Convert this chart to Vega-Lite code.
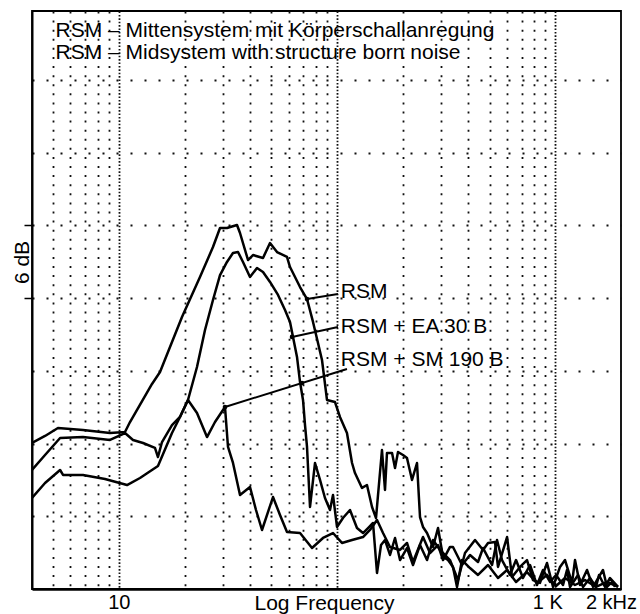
{
  "$schema": "https://vega.github.io/schema/vega-lite/v6.json",
  "width": 589,
  "height": 578,
  "autosize": {"type": "none"},
  "padding": {"left": 32, "top": 11, "right": 19, "bottom": 25},
  "background": "white",
  "config": {
    "view": {"stroke": "black", "strokeWidth": 1.8},
    "font": "Liberation Sans"
  },
  "datasets": {
    "curves": [
      {"series":"RSM","f":4.00,"dB":12.05},{"series":"RSM","f":4.59,"dB":12.63},{"series":"RSM","f":5.26,"dB":13.29},{"series":"RSM","f":6.85,"dB":13.12},{"series":"RSM","f":9.11,"dB":12.87},{"series":"RSM","f":10.67,"dB":12.96},{"series":"RSM","f":11.25,"dB":13.78},{"series":"RSM","f":14.19,"dB":16.92},{"series":"RSM","f":15.44,"dB":17.91},{"series":"RSM","f":19.47,"dB":22.45},{"series":"RSM","f":23.54,"dB":25.75},{"series":"RSM","f":27.00,"dB":28.22},{"series":"RSM","f":29.08,"dB":29.79},{"series":"RSM","f":31.30,"dB":29.79},{"series":"RSM","f":34.79,"dB":30.04},{"series":"RSM","f":35.91,"dB":29.38},{"series":"RSM","f":39.07,"dB":27.15},{"series":"RSM","f":41.19,"dB":27.56},{"series":"RSM","f":45.77,"dB":27.32},{"series":"RSM","f":49.28,"dB":28.55},{"series":"RSM","f":53.06,"dB":27.81},{"series":"RSM","f":58.96,"dB":27.40},{"series":"RSM","f":60.86,"dB":26.57},{"series":"RSM","f":67.64,"dB":24.92},{"series":"RSM","f":72.82,"dB":23.93},{"series":"RSM","f":77.58,"dB":22.04},{"series":"RSM","f":81.77,"dB":20.30},{"series":"RSM","f":85.29,"dB":18.90},{"series":"RSM","f":89.90,"dB":15.60},{"series":"RSM","f":97.82,"dB":15.43},{"series":"RSM","f":103.1,"dB":14.20},{"series":"RSM","f":111.0,"dB":12.87},{"series":"RSM","f":117.1,"dB":10.40},{"series":"RSM","f":120.8,"dB":9.57},{"series":"RSM","f":130.1,"dB":8.34},{"series":"RSM","f":137.1,"dB":8.58},{"series":"RSM","f":144.6,"dB":6.77},{"series":"RSM","f":150.8,"dB":5.86},{"series":"RSM","f":160.6,"dB":11.47},{"series":"RSM","f":165.8,"dB":8.17},{"series":"RSM","f":169.3,"dB":11.22},{"series":"RSM","f":178.6,"dB":11.22},{"series":"RSM","f":184.3,"dB":9.99},{"series":"RSM","f":190.2,"dB":11.31},{"series":"RSM","f":200.5,"dB":11.06},{"series":"RSM","f":209.1,"dB":10.81},{"series":"RSM","f":220.5,"dB":9.00},{"series":"RSM","f":232.4,"dB":10.40},{"series":"RSM","f":239.9,"dB":5.94},{"series":"RSM","f":247.6,"dB":5.12},{"series":"RSM","f":258.3,"dB":4.62},{"series":"RSM","f":275.2,"dB":3.47},{"series":"RSM","f":290.1,"dB":5.03},{"series":"RSM","f":305.8,"dB":2.64},{"series":"RSM","f":322.4,"dB":2.39},{"series":"RSM","f":339.8,"dB":1.82},{"series":"RSM","f":354.5,"dB":0.17},{"series":"RSM","f":373.7,"dB":2.39},{"series":"RSM","f":406.5,"dB":1.73},{"series":"RSM","f":442.4,"dB":1.16},{"series":"RSM","f":491.8,"dB":1.98},{"series":"RSM","f":546.3,"dB":0.91},{"series":"RSM","f":601,"dB":1.57},{"series":"RSM","f":660.7,"dB":0.58},{"series":"RSM","f":741.8,"dB":1.40},{"series":"RSM","f":824.3,"dB":0.50},{"series":"RSM","f":916.2,"dB":1.16},{"series":"RSM","f":1007.7,"dB":0.25},{"series":"RSM","f":1108,"dB":0.91},{"series":"RSM","f":1231,"dB":0.33},{"series":"RSM","f":1368,"dB":0.74},{"series":"RSM","f":1536,"dB":0.17},{"series":"RSM","f":1726,"dB":0.58},{"series":"RSM","f":1938,"dB":0.17},
      {"series":"EA","f":4.00,"dB":9.82},{"series":"EA","f":4.59,"dB":11.06},{"series":"EA","f":5.38,"dB":12.46},{"series":"EA","f":6.85,"dB":12.54},{"series":"EA","f":9.11,"dB":12.30},{"series":"EA","f":10.67,"dB":12.87},{"series":"EA","f":11.61,"dB":12.30},{"series":"EA","f":12.91,"dB":12.05},{"series":"EA","f":14.64,"dB":11.64},{"series":"EA","f":15.11,"dB":10.89},{"series":"EA","f":15.77,"dB":12.13},{"series":"EA","f":17.52,"dB":13.53},{"series":"EA","f":19.06,"dB":14.20},{"series":"EA","f":20.74,"dB":15.60},{"series":"EA","f":22.81,"dB":18.32},{"series":"EA","f":24.82,"dB":21.37},{"series":"EA","f":27.00,"dB":23.85},{"series":"EA","f":29.08,"dB":25.91},{"series":"EA","f":31.30,"dB":26.99},{"series":"EA","f":33.35,"dB":27.73},{"series":"EA","f":35.16,"dB":27.81},{"series":"EA","f":37.06,"dB":26.99},{"series":"EA","f":39.90,"dB":25.75},{"series":"EA","f":42.96,"dB":26.49},{"series":"EA","f":45.77,"dB":26.16},{"series":"EA","f":49.28,"dB":25.34},{"series":"EA","f":53.62,"dB":24.27},{"series":"EA","f":57.73,"dB":23.03},{"series":"EA","f":60.86,"dB":22.04},{"series":"EA","f":62.82,"dB":20.80},{"series":"EA","f":65.52,"dB":19.15},{"series":"EA","f":67.64,"dB":17.08},{"series":"EA","f":69.81,"dB":15.60},{"series":"EA","f":71.30,"dB":13.53},{"series":"EA","f":72.82,"dB":11.72},{"series":"EA","f":75.16,"dB":6.77},{"series":"EA","f":79.24,"dB":10.40},{"series":"EA","f":83.52,"dB":9.00},{"series":"EA","f":88.03,"dB":7.51},{"series":"EA","f":92.80,"dB":6.52},{"series":"EA","f":95.79,"dB":7.76},{"series":"EA","f":99.92,"dB":5.12},{"series":"EA","f":106.4,"dB":5.86},{"series":"EA","f":114.6,"dB":6.52},{"series":"EA","f":123.4,"dB":5.03},{"series":"EA","f":131.5,"dB":4.62},{"series":"EA","f":138.6,"dB":5.03},{"series":"EA","f":146.1,"dB":5.45},{"series":"EA","f":152.4,"dB":1.32},{"series":"EA","f":159.0,"dB":3.63},{"series":"EA","f":165.8,"dB":4.04},{"series":"EA","f":174.8,"dB":2.81},{"series":"EA","f":184.3,"dB":4.21},{"series":"EA","f":194.3,"dB":2.39},{"series":"EA","f":209.1,"dB":3.38},{"series":"EA","f":222.8,"dB":1.98},{"series":"EA","f":239.9,"dB":3.63},{"series":"EA","f":258.3,"dB":2.39},{"series":"EA","f":275.2,"dB":4.04},{"series":"EA","f":296.3,"dB":3.22},{"series":"EA","f":329.2,"dB":2.39},{"series":"EA","f":358.2,"dB":0.74},{"series":"EA","f":385.6,"dB":2.97},{"series":"EA","f":428.6,"dB":4.04},{"series":"EA","f":466.5,"dB":3.22},{"series":"EA","f":491.8,"dB":3.80},{"series":"EA","f":529.4,"dB":3.88},{"series":"EA","f":546.3,"dB":1.82},{"series":"EA","f":601.0,"dB":4.29},{"series":"EA","f":633.3,"dB":0.99},{"series":"EA","f":689.2,"dB":1.82},{"series":"EA","f":741.8,"dB":2.39},{"series":"EA","f":790.2,"dB":0.74},{"series":"EA","f":850.8,"dB":0.50},{"series":"EA","f":916.2,"dB":2.15},{"series":"EA","f":976.4,"dB":0.17},{"series":"EA","f":1051,"dB":1.82},{"series":"EA","f":1108,"dB":2.39},{"series":"EA","f":1193,"dB":0.50},{"series":"EA","f":1231,"dB":2.39},{"series":"EA","f":1298,"dB":0.33},{"series":"EA","f":1397,"dB":1.57},{"series":"EA","f":1489,"dB":0.17},{"series":"EA","f":1654,"dB":1.57},{"series":"EA","f":1726,"dB":0.17},{"series":"EA","f":1819,"dB":0.58},{"series":"EA","f":1878,"dB":0.17},
      {"series":"SM","f":4.00,"dB":7.51},{"series":"SM","f":4.59,"dB":8.75},{"series":"SM","f":5.38,"dB":9.82},{"series":"SM","f":5.55,"dB":9.41},{"series":"SM","f":6.85,"dB":9.41},{"series":"SM","f":8.64,"dB":9.08},{"series":"SM","f":10.90,"dB":8.58},{"series":"SM","f":12.50,"dB":9.16},{"series":"SM","f":15.11,"dB":10.15},{"series":"SM","f":17.52,"dB":12.87},{"series":"SM","f":19.06,"dB":14.20},{"series":"SM","f":20.74,"dB":15.60},{"series":"SM","f":22.81,"dB":14.53},{"series":"SM","f":25.35,"dB":12.54},{"series":"SM","f":27.58,"dB":13.78},{"series":"SM","f":30.65,"dB":15.02},{"series":"SM","f":31.64,"dB":11.72},{"series":"SM","f":33.35,"dB":10.40},{"series":"SM","f":35.91,"dB":7.76},{"series":"SM","f":39.90,"dB":8.42},{"series":"SM","f":42.51,"dB":6.52},{"series":"SM","f":45.29,"dB":4.87},{"series":"SM","f":50.86,"dB":7.59},{"series":"SM","f":54.76,"dB":6.11},{"series":"SM","f":58.96,"dB":4.70},{"series":"SM","f":67.64,"dB":4.62},{"series":"SM","f":76.77,"dB":3.38},{"series":"SM","f":86.19,"dB":4.21},{"series":"SM","f":95.79,"dB":4.62},{"series":"SM","f":105.3,"dB":3.80},{"series":"SM","f":117.1,"dB":4.04},{"series":"SM","f":131.5,"dB":4.29},{"series":"SM","f":141.5,"dB":4.87},{"series":"SM","f":152.4,"dB":5.69},{"series":"SM","f":162.4,"dB":4.62},{"series":"SM","f":174.8,"dB":3.47},{"series":"SM","f":194.3,"dB":3.22},{"series":"SM","f":209.1,"dB":3.80},{"series":"SM","f":222.8,"dB":2.23},{"series":"SM","f":247.6,"dB":4.29},{"series":"SM","f":266.6,"dB":2.97},{"series":"SM","f":290.1,"dB":3.63},{"series":"SM","f":305.8,"dB":2.39},{"series":"SM","f":329.2,"dB":3.47},{"series":"SM","f":339.8,"dB":3.47},{"series":"SM","f":373.7,"dB":1.98},{"series":"SM","f":406.5,"dB":2.81},{"series":"SM","f":442.4,"dB":2.23},{"series":"SM","f":466.5,"dB":3.38},{"series":"SM","f":512.9,"dB":1.98},{"series":"SM","f":540.6,"dB":4.04},{"series":"SM","f":569.9,"dB":2.39},{"series":"SM","f":620.1,"dB":1.16},{"series":"SM","f":660.7,"dB":2.39},{"series":"SM","f":711.1,"dB":0.91},{"series":"SM","f":765.6,"dB":1.98},{"series":"SM","f":824.3,"dB":0.33},{"series":"SM","f":878.2,"dB":1.57},{"series":"SM","f":945.9,"dB":0.58},{"series":"SM","f":1007.7,"dB":1.16},{"series":"SM","f":1085,"dB":0.33},{"series":"SM","f":1131,"dB":1.57},{"series":"SM","f":1168,"dB":0.17},{"series":"SM","f":1271,"dB":1.16},{"series":"SM","f":1340,"dB":0.17},{"series":"SM","f":1442,"dB":0.91},{"series":"SM","f":1536,"dB":0.17},{"series":"SM","f":1586,"dB":1.16},{"series":"SM","f":1690,"dB":0.17},{"series":"SM","f":1781,"dB":0.91},{"series":"SM","f":1938,"dB":0.17}
    ],
    "pointers": [
      {"f1":72.82,"d1":23.93,"f2":100.97,"d2":24.35},
      {"f1":62.17,"d1":20.80,"f2":100.97,"d2":21.62},
      {"f1":30.65,"d1":15.02,"f2":111.0,"d2":18.16}
    ],
    "dots": [
      {"f":72.82,"dB":23.93},{"f":62.17,"dB":20.80},{"f":30.65,"dB":15.02},{"f":69.08,"dB":17.0}
    ],
    "labels": [
      {"f":104,"dB":24.02,"text":"RSM"},
      {"f":104,"dB":21.13,"text":"RSM + EA 30 B"},
      {"f":104,"dB":18.40,"text":"RSM + SM 190 B"}
    ],
    "heading": [
      {"f":5.13,"dB":45.52,"text":"RSM – Mittensystem mit Körperschallanregung"},
      {"f":5.13,"dB":43.70,"text":"RSM – Midsystem with structure born noise"}
    ]
  },
  "layer": [
    {
      "data": {"name": "curves"},
      "mark": {"type": "line", "color": "black", "strokeWidth": 2.5, "strokeJoin": "round", "clip": true},
      "encoding": {
        "x": {
          "field": "f", "type": "quantitative",
          "scale": {"type": "log", "domain": [4, 2000], "nice": false},
          "axis": {
            "values": [5,6,7,8,9,10,20,30,40,50,60,70,80,90,100,200,300,400,500,600,700,800,900,1000,2000],
            "grid": true,
            "gridColor": "#111",
            "gridWidth": 1.8,
            "gridDash": {"condition": {"test": "datum.value == 10 || datum.value == 100 || datum.value == 1000", "value": [1.6, 1.8]}, "value": [2, 7.09]},
            "gridOpacity": {"condition": {"test": "datum.value == 2000", "value": 0}, "value": 1},
            "ticks": false,
            "domain": true, "domainColor": "black", "domainWidth": 2.5,
            "labelExpr": "datum.value == 10 ? '10' : datum.value == 1000 ? '1 K' : datum.value == 2000 ? '2 kHz' : ''",
            "labelOffset": {"condition": [{"test": "datum.value == 1000", "value": -8}, {"test": "datum.value == 2000", "value": -10}], "value": 0},
            "labelFlush": false, "labelOverlap": false, "labelBound": false,
            "labelFontSize": 20, "labelColor": "black", "labelFont": "Liberation Sans",
            "labelBaseline": "alphabetic", "labelPadding": 19,
            "title": "Log Frequency", "titleFontSize": 21, "titleFontWeight": "normal", "titleColor": "black", "titleFont": "Liberation Sans",
            "titleX": 292, "titleY": 20, "titleBaseline": "alphabetic", "titleAlign": "center", "titleAnchor": null
          }
        },
        "y": {
          "field": "dB", "type": "quantitative",
          "scale": {"domain": [0, 47.7], "nice": false, "zero": false},
          "axis": {
            "values": [6,12,18,24,30,36,42],
            "grid": true, "gridColor": "#111", "gridWidth": 1.8, "gridDash": [2, 12],
            "labels": false,
            "ticks": true, "tickSize": 8, "tickColor": "black", "tickWidth": 1.5,
            "tickOpacity": {"condition": {"test": "datum.value == 24 || datum.value == 30", "value": 1}, "value": 0},
            "domain": true, "domainColor": "black", "domainWidth": 2,
            "title": "6 dB", "titleFontSize": 21, "titleFontWeight": "normal", "titleColor": "black", "titleFont": "Liberation Sans",
            "titleX": -4, "titleY": 251, "titleAngle": -90, "titleBaseline": "alphabetic", "titleAlign": "center"
          }
        },
        "detail": {"field": "series"}
      }
    },
    {
      "data": {"name": "pointers"},
      "mark": {"type": "rule", "color": "black", "strokeWidth": 2},
      "encoding": {
        "x": {"field": "f1", "type": "quantitative"},
        "y": {"field": "d1", "type": "quantitative"},
        "x2": {"field": "f2"},
        "y2": {"field": "d2"}
      }
    },
    {
      "data": {"name": "dots"},
      "mark": {"type": "point", "filled": true, "color": "black", "size": 22, "opacity": 1},
      "encoding": {
        "x": {"field": "f", "type": "quantitative"},
        "y": {"field": "dB", "type": "quantitative"}
      }
    },
    {
      "data": {"name": "labels"},
      "mark": {"type": "text", "align": "left", "baseline": "alphabetic", "fontSize": 21, "font": "Liberation Sans", "color": "black"},
      "encoding": {
        "x": {"field": "f", "type": "quantitative"},
        "y": {"field": "dB", "type": "quantitative"},
        "text": {"field": "text"}
      }
    },
    {
      "data": {"name": "heading"},
      "mark": {"type": "text", "align": "left", "baseline": "alphabetic", "fontSize": 21, "font": "Liberation Sans", "color": "black"},
      "encoding": {
        "x": {"field": "f", "type": "quantitative"},
        "y": {"field": "dB", "type": "quantitative"},
        "text": {"field": "text"}
      }
    }
  ]
}
